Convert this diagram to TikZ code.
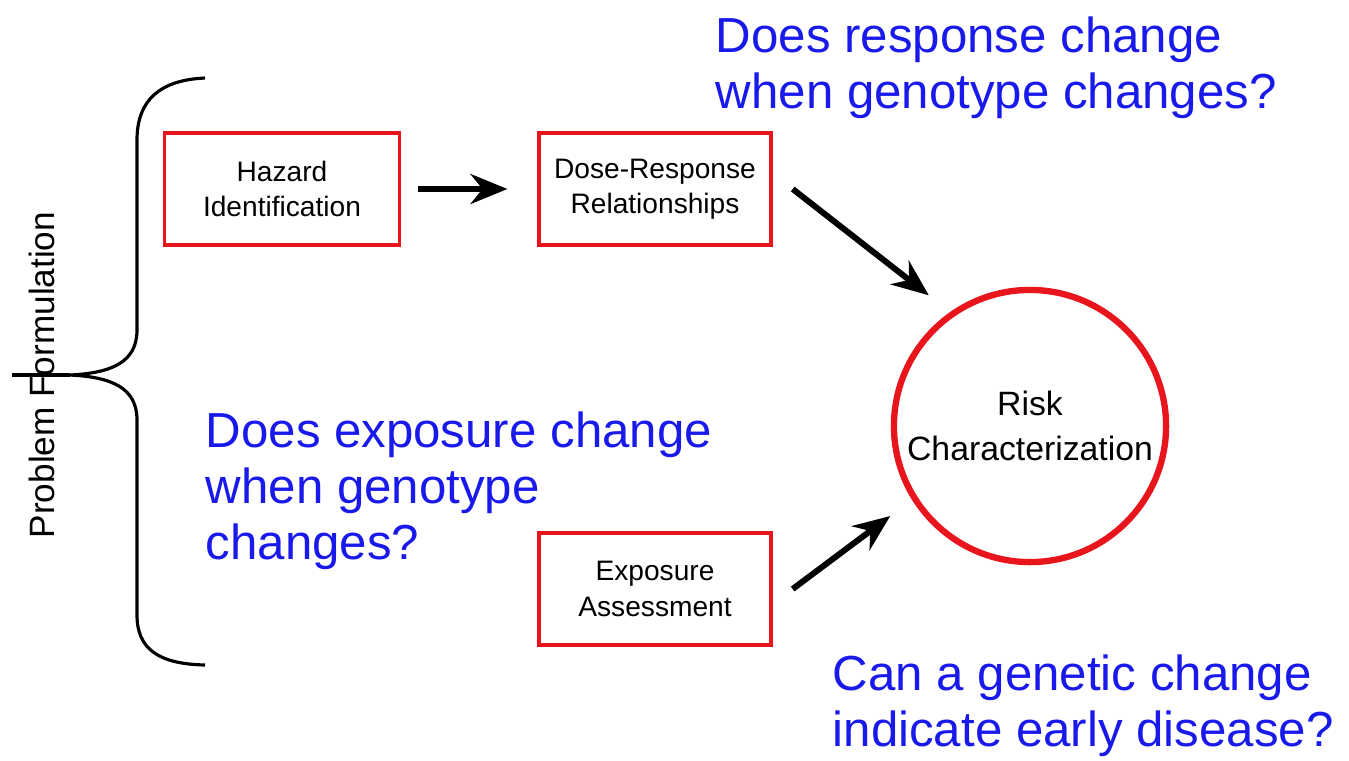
\documentclass[tikz,border=0pt]{standalone}
\usepackage{fontspec}
\setmainfont{Liberation Sans}
\usetikzlibrary{
  calc, % For shifted start points
  arrows.meta % For arrow tips
}
\definecolor{qblue}{RGB}{25,25,235}
\definecolor{boxred}{RGB}{232,22,28}

\begin{document}
\begin{tikzpicture}[
      x=0.01cm, y=-0.01cm, % pixel-like units, y pointing down
      >=Stealth, % Default arrow tip
      procbox/.style={draw=boxred, line width=0.9pt, minimum width=2.32cm,
        minimum height=1.12cm, align=center, inner sep=0pt,
        font=\fontsize{8}{10}\selectfont}, % Style for process boxes
      riskcirc/.style={circle, draw=boxred, line width=1.8pt,
        minimum size=2.72cm, align=center, inner sep=0pt,
        font=\fontsize{9.6}{12.8}\selectfont}, % Style for the circle
      flow/.style={line width=1.7pt, -{Stealth[length=10.5pt, width=8.5pt]}}, % Style for arrows
      question/.style={qblue, anchor=north west, align=left, inner sep=0pt,
        font=\fontsize{14}{16}\selectfont}, % Style for blue questions
    ]

    \useasboundingbox (0,0) rectangle (1349,760);

    % Kästen
    \node[procbox, minimum width=2.35cm] (hazard) at (282,189) {Hazard\\Identification};
    \node[procbox] (dose) at (655,189) {Dose-Response\\Relationships};
    \node[procbox] (exposure) at (655,589) {Exposure\\Assessment};
    \node[riskcirc] (risk) at (1030,426) {Risk\\Characterization};

    % Pfeile
    \draw[flow, shorten <=4.8pt, shorten >=8.5pt] (hazard.east) -- (dose.west);
    \draw[flow, shorten >=7.7pt] ($(dose.east)+(20,0)$) -- (risk.125);
    \draw[flow, shorten >=7.7pt] ($(exposure.east)+(20,0)$) -- (risk.212);

    % Klammer
    \coordinate (tip) at (70,375);
    \draw[line width=0.9pt]
      (205,78) .. controls (160,80) and (137,100) .. (137,140) -- (137,330)
      .. controls (137,362) and (112,373) .. (tip)
      .. controls (112,377) and (137,388) .. (137,420) -- (137,615)
      .. controls (137,650) and (160,664) .. (205,665);
    \draw[line width=0.9pt] (tip) -- ++(-58,0);
    \node[rotate=90, inner sep=0pt, font=\fontsize{10}{12}\selectfont] (problem) at (42,375) {Problem Formulation};

    % Fragen
    \node[question] (qresponse) at (715,16) {Does response change\\when genotype changes?};
    \node[question] (qexposure) at (205,411) {Does exposure change\\when genotype\\changes?};
    \node[question] (qdisease) at (832,654) {Can a genetic change\\indicate early disease?};

  \end{tikzpicture}
\end{document}
